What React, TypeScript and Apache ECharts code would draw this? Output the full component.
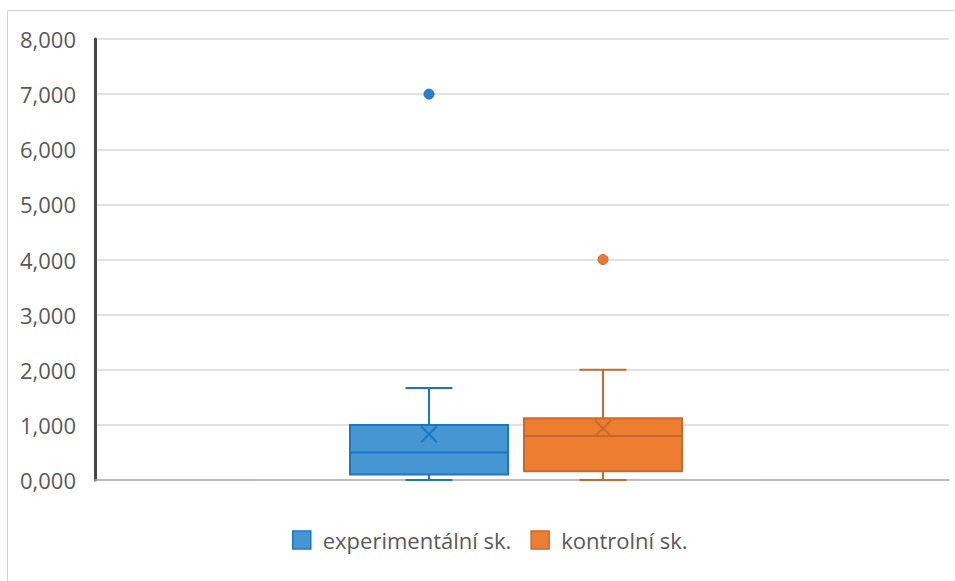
import React, { useEffect, useRef } from 'react';
import * as echarts from 'echarts';

const categories = [''];
const seriesNames = ['experimentální sk.', 'kontrolní sk.'];
// [min, Q1, median, Q3, max]
const expBox = [0, 0.1, 0.5, 1.0, 1.67];
const ctrlBox = [0, 0.16, 0.8, 1.12, 2.0];
const expMean = 0.83;
const ctrlMean = 0.94;
const expOutlier = 7.0;
const ctrlOutlier = 4.0;
const yMin = 0;
const yMax = 8;
const yInterval = 1;

const FILLS = ['#4596d3', '#ed7d31'];
const BORDERS = ['#1a78c2', '#c96a2c'];
const OFFSETS = [-93, 81];
const BOX_W = 158;
const CAP_W = 47;

const FONT = '"Open Sans", "Noto Sans", sans-serif';

function renderBox(params: any, api: any) {
  const i = params.seriesIndex;
  const cat = api.value(0);
  const bandCenter = api.coord([cat, 0])[0];
  const cx = bandCenter + OFFSETS[i];
  const y = (v: number) => api.coord([cat, v])[1];
  const vMin = y(api.value(1));
  const vQ1 = y(api.value(2));
  const vMed = y(api.value(3));
  const vQ3 = y(api.value(4));
  const vMax = y(api.value(5));
  const vMean = y(api.value(6));
  const vOut = y(api.value(7));
  const stroke = BORDERS[i];
  const lineStyle = { stroke, lineWidth: 2, fill: 'none' };
  const children: any[] = [
    { type: 'line', shape: { x1: cx, y1: vQ3, x2: cx, y2: vMax }, style: lineStyle },
    { type: 'line', shape: { x1: cx, y1: vQ1, x2: cx, y2: vMin }, style: lineStyle },
    { type: 'line', shape: { x1: cx - CAP_W / 2, y1: vMax, x2: cx + CAP_W / 2, y2: vMax }, style: lineStyle },
    { type: 'line', shape: { x1: cx - CAP_W / 2, y1: vMin, x2: cx + CAP_W / 2, y2: vMin }, style: lineStyle },
    {
      type: 'rect',
      shape: { x: cx - BOX_W / 2, y: vQ3, width: BOX_W, height: vQ1 - vQ3 },
      style: { fill: FILLS[i], stroke, lineWidth: 2 },
    },
    { type: 'line', shape: { x1: cx - BOX_W / 2, y1: vMed, x2: cx + BOX_W / 2, y2: vMed }, style: lineStyle },
    { type: 'line', shape: { x1: cx - 8, y1: vMean - 8, x2: cx + 8, y2: vMean + 8 }, style: lineStyle },
    { type: 'line', shape: { x1: cx - 8, y1: vMean + 8, x2: cx + 8, y2: vMean - 8 }, style: lineStyle },
    {
      type: 'circle',
      shape: { cx, cy: vOut, r: 5 },
      style: { fill: i === 0 ? '#2a80c8' : '#ea7a33', stroke, lineWidth: 1 },
    },
  ];
  return { type: 'group', children };
}

export default function App() {
  const ref = useRef<HTMLDivElement>(null);
  useEffect(() => {
    if (!ref.current) return;
    const chart = echarts.init(ref.current, undefined, { renderer: 'svg' });
    const boxes = [expBox, ctrlBox];
    const means = [expMean, ctrlMean];
    const outs = [expOutlier, ctrlOutlier];
    chart.setOption({
      animation: false,
      backgroundColor: '#ffffff',
      graphic: [
        {
          type: 'rect',
          shape: { x: 7.5, y: 10.5, width: 1000, height: 700 },
          style: { fill: 'none', stroke: '#d4d4d4', lineWidth: 1 },
          silent: true,
        },
      ],
      grid: { left: 95, right: 6, top: 39, bottom: 101, containLabel: false },
      legend: {
        left: 292,
        top: 529,
        padding: 0,
        itemWidth: 18,
        itemHeight: 18,
        itemGap: 19,
        icon: 'rect',
        textStyle: { color: '#595959', fontSize: 22, fontFamily: FONT, padding: [0, 0, 0, 7] },
        data: seriesNames.map((n, i) => ({
          name: n,
          itemStyle: { color: FILLS[i], borderColor: BORDERS[i], borderWidth: 1.5 },
        })),
      },
      xAxis: {
        type: 'category',
        data: categories,
        axisLine: { show: true, lineStyle: { color: '#b0b0b0', width: 1.5 } },
        axisTick: { show: false },
        axisLabel: { show: false },
        splitLine: { show: false },
      },
      yAxis: {
        type: 'value',
        min: yMin,
        max: yMax,
        interval: yInterval,
        axisLine: { show: true, lineStyle: { color: '#474747', width: 3 } },
        axisTick: { show: false },
        splitLine: { show: true, lineStyle: { color: '#d9d9d9', width: 1.5 } },
        axisLabel: {
          margin: 19,
          color: '#595959',
          fontSize: 22,
          fontFamily: FONT,
          formatter: (v: number) => v.toFixed(3).replace('.', ','),
        },
      },
      series: seriesNames.map((n, i) => ({
        name: n,
        type: 'custom',
        renderItem: renderBox,
        itemStyle: { color: FILLS[i], borderColor: BORDERS[i] },
        encode: { x: 0, y: [1, 2, 3, 4, 5, 6, 7] },
        data: [[0, ...boxes[i], means[i], outs[i]]],
        z: 3,
      })),
    });
    return () => chart.dispose();
  }, []);
  return (
    <div
      ref={ref}
      style={{ position: 'absolute', left: 0, top: 0, width: 955, height: 581 }}
    />
  );
}
